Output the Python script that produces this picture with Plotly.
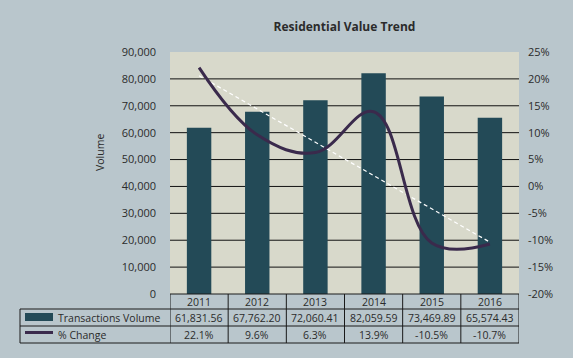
import numpy as np
import plotly.graph_objects as go

# ---- data ----
years = ["2011", "2012", "2013", "2014", "2015", "2016"]
volume = [61831.56, 67762.20, 72060.41, 82059.59, 73469.89, 65574.43]
pct_change = [22.1, 9.6, 6.3, 13.9, -10.5, -10.7]
volume_labels = ["61,831.56", "67,762.20", "72,060.41", "82,059.59", "73,469.89", "65,574.43"]
pct_labels = ["22.1%", "9.6%", "6.3%", "13.9%", "-10.5%", "-10.7%"]
left_ticks = [0, 10000, 20000, 30000, 40000, 50000, 60000, 70000, 80000, 90000]
right_ticks = [-20, -15, -10, -5, 0, 5, 10, 15, 20, 25]
series_names = ["Transactions Volume", "% Change"]

# ---- styles ----
W, H = 573, 358
L, R, T, B = 170, 54, 52, 64
BG = "#b9c6cc"
PLOT_BG = "#d8d9cb"
BAR = "#234a57"
LINE = "#3a2a4c"
TXT = "#2b2b2b"
FONT = "Open Sans"

plot_h = H - T - B
plot_w = W - L - R

def py(px):  # pixel y -> paper y
    return (H - B - px) / plot_h

def pxx(px):  # pixel x -> paper x
    return (px - L) / plot_w

xs = list(range(len(years)))
coef = np.polyfit(xs, pct_change, 1)
trend = list(np.polyval(coef, xs))

fig = go.Figure()
fig.add_trace(go.Bar(x=xs, y=volume, marker=dict(color=BAR, line=dict(width=0)),
                     width=0.42, name=series_names[0], yaxis="y", showlegend=False))
fig.add_trace(go.Scatter(x=xs, y=trend, mode="lines", yaxis="y2", showlegend=False,
                         line=dict(color="white", width=1.2, dash="4px,3px")))
fig.add_trace(go.Scatter(x=xs, y=pct_change, mode="lines", yaxis="y2", showlegend=False,
                         name=series_names[1],
                         line=dict(color=LINE, width=3, shape="spline", smoothing=1.1)))

shapes = []
# gridlines
for v in left_ticks[1:-1]:
    shapes.append(dict(type="line", xref="paper", yref="y", x0=0, x1=1, y0=v, y1=v,
                       line=dict(color="#111111", width=1), layer="below"))

# table
row_y = [py(294), py(309), py(326), py(343)]
line_style = dict(color="#1a1a1a", width=1)
n = len(years)
shapes.append(dict(type="line", xref="x", yref="paper", x0=-0.5, x1=n - 0.5,
                   y0=row_y[0], y1=row_y[0], line=line_style))
for ry in row_y[1:]:
    shapes.append(dict(type="line", xref="paper", yref="paper", x0=pxx(20), x1=1,
                       y0=ry, y1=ry, line=line_style))
for i in range(n + 1):
    shapes.append(dict(type="line", xref="x", yref="paper", x0=i - 0.5, x1=i - 0.5,
                       y0=row_y[0], y1=row_y[3], line=line_style))
shapes.append(dict(type="line", xref="paper", yref="paper", x0=pxx(20), x1=pxx(20),
                   y0=row_y[1], y1=row_y[3], line=line_style))
# legend swatches
shapes.append(dict(type="rect", xref="paper", yref="paper", x0=pxx(25), x1=pxx(53),
                   y0=py(321), y1=py(313), fillcolor=BAR, line=dict(width=0)))
shapes.append(dict(type="rect", xref="paper", yref="paper", x0=pxx(25), x1=pxx(53),
                   y0=py(334), y1=py(331), fillcolor=LINE, line=dict(width=0)))

annotations = []
tfont = dict(family=FONT, size=10.5, color=TXT)
afont = dict(family=FONT, size=11, color=TXT)
common = dict(showarrow=False, yanchor="middle", font=tfont)
for i, yr in enumerate(years):
    annotations.append(dict(x=i, y=(row_y[0] + row_y[1]) / 2, xref="x", yref="paper",
                            text=yr, xanchor="center", **common))
    annotations.append(dict(x=i, y=(row_y[1] + row_y[2]) / 2, xref="x", yref="paper",
                            text=volume_labels[i], xanchor="center", **common))
    annotations.append(dict(x=i, y=(row_y[2] + row_y[3]) / 2, xref="x", yref="paper",
                            text=pct_labels[i], xanchor="center", **common))
annotations.append(dict(x=pxx(56), y=(row_y[1] + row_y[2]) / 2, xref="paper", yref="paper",
                        text=series_names[0], xanchor="left", **common))
annotations.append(dict(x=pxx(56), y=(row_y[2] + row_y[3]) / 2, xref="paper", yref="paper",
                        text=series_names[1], xanchor="left", **common))
annotations.append(dict(x=pxx(100), y=py(153), xref="paper", yref="paper", text="Volume",
                        textangle=-90, xanchor="center", **common))

fig.update_layout(
    width=W, height=H,
    margin=dict(l=L, r=R, t=T, b=B, pad=0),
    paper_bgcolor=BG, plot_bgcolor=PLOT_BG,
    title=dict(text="<b>Residential Value Trend</b>", x=(L + plot_w / 2) / W,
               xanchor="center", y=1 - 27 / H, yanchor="middle",
               font=dict(family=FONT, size=12, color=TXT)),
    xaxis=dict(range=[-0.5, n - 0.5], showticklabels=False, showgrid=False, zeroline=False,
               showline=False, ticks=""),
    yaxis=dict(range=[0, 90000], tickvals=left_ticks,
               ticktext=[f"{v:,}" for v in left_ticks], showgrid=False, zeroline=False,
               ticks="", ticklabelstandoff=13, tickfont=afont),
    yaxis2=dict(range=[-20, 25], tickvals=right_ticks,
                ticktext=[f"{v}%" for v in right_ticks], overlaying="y", side="right",
                showgrid=False, zeroline=False, ticks="", ticklabelstandoff=8, tickfont=afont),
    shapes=shapes, annotations=annotations, bargap=0.5,
)

fig.write_html("out.html", config={"displayModeBar": False},
               post_script="document.body.style.margin='0';document.body.style.background='%s';" % BG)
